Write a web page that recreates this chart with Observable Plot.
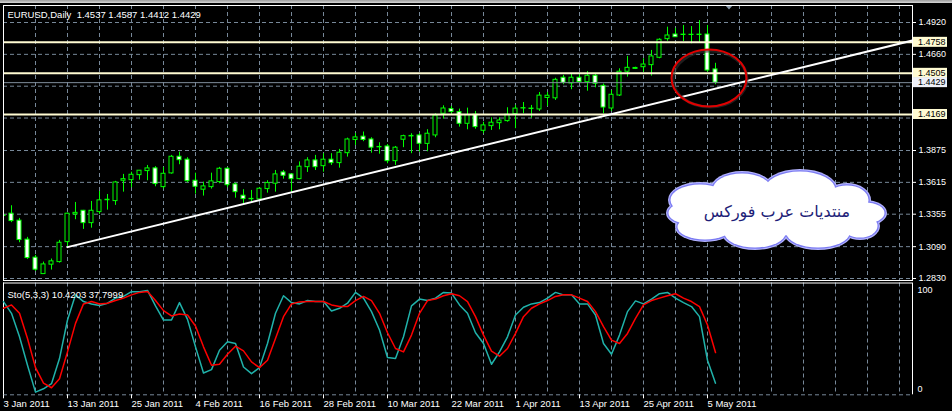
<!DOCTYPE html>
<html><head><meta charset="utf-8">
<script src="https://cdn.jsdelivr.net/npm/d3@7"></script>
<script src="https://cdn.jsdelivr.net/npm/@observablehq/plot@0.6"></script>
<style>
html,body{margin:0;padding:0;background:#000;}
#wrap{position:relative;width:952px;height:411px;overflow:hidden;background:#000;}
#topbar{position:absolute;left:0;top:0;width:952px;height:3px;background:linear-gradient(#9c9c9c,#d6d6d6);z-index:2;}
svg{display:block;}
</style></head><body><div id="wrap"><div id="topbar"></div><div id="chart"></div></div>
<script>
// ---- EURUSD daily bars, 3 Jan 2011 .. 6 May 2011 (bar number = position) ----
const open = [1.3345,1.3359,1.3302,1.3147,1.3000,1.2866,1.2943,1.2964,1.3127,1.3353,
1.3383,1.3282,1.3372,1.3469,1.3462,1.3628,1.3633,1.3674,1.3707,1.3729,
1.3576,1.3688,1.3824,1.3800,1.3628,1.3555,1.3576,1.3617,1.3726,1.3598,
1.3506,1.3480,1.3476,1.3560,1.3604,1.3696,1.3680,1.3641,1.3739,1.3794,
1.3747,1.3800,1.3772,1.3853,1.3961,1.3988,1.3965,1.3904,1.3908,1.3788,
1.3963,1.3990,1.3998,1.3929,1.3998,1.4175,1.4213,1.4188,1.4093,1.4168,
1.4036,1.4074,1.4098,1.4115,1.4172,1.4218,1.4214,1.4210,1.4304,1.4301,
1.4469,1.4422,1.4469,1.4433,1.4485,1.4403,1.4218,1.4324,1.4518,1.4541,
1.4555,1.4572,1.4632,1.4784,1.4822,1.4818,1.4820,1.4818,1.4822,1.4537];
const high = [1.3394,1.3424,1.3321,1.3166,1.3019,1.2964,1.2989,1.3141,1.3364,1.3451,
1.3386,1.3459,1.3541,1.3516,1.3623,1.3680,1.3698,1.3712,1.3753,1.3743,
1.3737,1.3835,1.3862,1.3816,1.3690,1.3617,1.3690,1.3737,1.3734,1.3609,
1.3555,1.3549,1.3571,1.3628,1.3712,1.3712,1.3685,1.3782,1.3816,1.3835,
1.3849,1.3849,1.3884,1.3976,1.4014,1.4026,1.3979,1.3938,1.3924,1.3908,
1.4000,1.4012,1.4012,1.4045,1.4175,1.4240,1.4235,1.4213,1.4221,1.4194,
1.4106,1.4142,1.4142,1.4224,1.4243,1.4267,1.4243,1.4349,1.4349,1.4465,
1.4488,1.4496,1.4496,1.4520,1.4496,1.4418,1.4365,1.4542,1.4643,1.4555,
1.4624,1.4692,1.4787,1.4882,1.4873,1.4896,1.4887,1.4936,1.4896,1.4587];
const low = [1.3241,1.3286,1.3122,1.2986,1.2888,1.2864,1.2899,1.2956,1.3086,1.3310,
1.3231,1.3241,1.3353,1.3388,1.3427,1.3535,1.3571,1.3633,1.3628,1.3579,
1.3560,1.3682,1.3759,1.3612,1.3519,1.3503,1.3560,1.3604,1.3571,1.3486,
1.3435,1.3459,1.3467,1.3527,1.3535,1.3641,1.3533,1.3636,1.3696,1.3712,
1.3698,1.3753,1.3731,1.3821,1.3916,1.3947,1.3853,1.3845,1.3767,1.3753,
1.3898,1.3849,1.3862,1.3865,1.3979,1.4131,1.4161,1.4066,1.4044,1.4049,
1.4012,1.4039,1.4044,1.4106,1.4053,1.4175,1.4139,1.4194,1.4235,1.4284,
1.4412,1.4371,1.4428,1.4359,1.4387,1.4175,1.4194,1.4316,1.4474,1.4536,
1.4514,1.4482,1.4624,1.4767,1.4798,1.4765,1.4746,1.4754,1.4514,1.4412];
const close = [1.3341,1.3299,1.3144,1.2997,1.2902,1.2945,1.2970,1.3122,1.3359,1.3366,
1.3282,1.3383,1.3468,1.3473,1.3614,1.3641,1.3677,1.3710,1.3729,1.3601,
1.3685,1.3824,1.3796,1.3625,1.3579,1.3582,1.3623,1.3726,1.3592,1.3535,
1.3478,1.3477,1.3563,1.3609,1.3680,1.3669,1.3641,1.3743,1.3794,1.3739,
1.3800,1.3772,1.3857,1.3965,1.3982,1.3961,1.3898,1.3901,1.3788,1.3898,
1.3992,1.3994,1.3930,1.4012,1.4161,1.4218,1.4190,1.4093,1.4164,1.4066,
1.4080,1.4102,1.4120,1.4167,1.4217,1.4221,1.4217,1.4323,1.4322,1.4452,
1.4428,1.4469,1.4433,1.4485,1.4420,1.4226,1.4330,1.4518,1.4550,1.4549,
1.4577,1.4643,1.4779,1.4814,1.4800,1.4821,1.4818,1.4821,1.4528,1.4429];

// ---- Stochastic (5,3,3) ----
const stochK = [83.4,72.9,51.9,26.4,2.4,5.4,9.9,32.4,66.9,89.4,
83.4,81.3,79.8,81.9,86.5,88.0,92.2,92.2,93.4,79.5,
66.9,66.9,82.5,67.5,42.9,19.5,22.5,39.9,47.4,45.9,
24.9,18.9,24.3,45.9,72.9,88.6,82.5,81.3,84.3,83.4,
83.4,75.0,77.4,81.9,91.6,86.5,74.4,57.9,33.3,32.4,
51.9,79.5,85.6,84.3,86.5,91.6,91.0,80.4,72.9,55.5,
45.9,27.3,38.4,51.9,71.4,78.3,81.3,82.5,86.5,91.6,
89.4,89.4,81.3,81.3,71.4,45.9,36.3,53.4,74.4,84.0,
81.3,85.6,90.4,91.6,86.5,82.5,78.9,69.9,30.9,10.4203];
const stochD = [77.4,80.4,72.9,50.4,24.3,10.5,6.3,14.4,38.4,63.9,
81.3,83.4,81.3,81.9,84.3,86.5,89.4,91.6,92.5,84.3,
75.3,70.5,72.3,71.4,61.5,42.9,26.4,27.3,36.3,43.5,
39.3,29.4,24.3,30.9,50.4,69.9,81.3,83.1,83.4,83.4,
83.4,80.4,78.9,78.9,84.3,88.0,84.3,72.9,55.5,41.4,
38.4,53.4,72.9,84.3,85.6,88.6,90.4,88.6,83.4,69.9,
53.4,39.0,34.5,41.4,54.9,69.9,77.4,81.3,84.3,88.0,
89.4,89.4,86.5,83.4,74.4,60.9,48.9,45.9,54.9,68.4,
80.4,84.3,86.5,88.6,90.4,86.5,83.4,78.9,62.4,37.7999];

// ---- axes / grid ----
const dateTickIdx = [0,8,16,24,32,40,48,56,64,72,80,88];
const dateTickLabels = ["3 Jan 2011","13 Jan 2011","25 Jan 2011","4 Feb 2011","16 Feb 2011","28 Feb 2011",
  "10 Mar 2011","22 Mar 2011","1 Apr 2011","13 Apr 2011","25 Apr 2011","5 May 2011"];
const gridIdx = [4,8,12,16,20,24,28,32,36,40,44,48,52,56,60,64,68,72,76,80,84,88,92,96,100,104,108,112];
const gridPrices = [1.4920,1.4660,1.4400,1.4140,1.3875,1.3615,1.3355,1.3090,1.2830];
const axisPrices = [1.4920,1.4660,1.3875,1.3615,1.3355,1.3090,1.2830];

// ---- drawn objects ----
const levels = [1.4758, 1.4505, 1.4169];
const trendBar = [8, 113.625];
const trendPrice = [1.3086, 1.4773];
const circleAt = {bar: 88.25, price: 1.4463};
const cloudAt = {bar: 96.75, price: 1.3377};
const cloudText = "منتديات عرب فوركس";
const shiftAt = 90.75;

const bars = open.map((o, i) => ({i, open: o, high: high[i], low: low[i], close: close[i]}));
const bull = bars.filter(d => d.close >= d.open);
const bear = bars.filter(d => d.close < d.open);
const trend = trendBar.map((b, k) => ({i: b, p: trendPrice[k]}));
const bid = close[close.length - 1];
const f4 = d3.format(".4f");
const last = bars[bars.length - 1];
const title = `EURUSD,Daily\u00a0 ${f4(last.open)} ${f4(last.high)} ${f4(last.low)} ${f4(last.close)}`;
const stoTitle = `Sto(5,3,3) ${stochK[stochK.length-1].toFixed(4)} ${stochD[stochD.length-1].toFixed(4)}`;

const FONT = "'Liberation Sans', Arial, sans-serif";
const X_DOMAIN = [0, 113.625];
const GRID = {stroke: "#778899", strokeOpacity: 1, strokeDasharray: "4,3"};
const GREEN = "#00ff00";

const labelBoxes = [
  {p: levels[0], bg: "#fffbd2"}, {p: levels[1], bg: "#fffbd2"}, {p: levels[2], bg: "#fffbd2"},
  {p: bid, bg: "#eef0f8"}
];

const main = Plot.plot({
  width: 952, height: 281,
  marginLeft: 3, marginRight: 40, marginTop: 5, marginBottom: 1,
  style: {background: "#000", color: "#fff", fontFamily: FONT, fontSize: "9px", overflow: "visible"},
  x: {domain: X_DOMAIN, axis: null},
  y: {domain: [1.28137, 1.50588], axis: null, label: null},
  marks: [
    Plot.gridX(gridIdx, GRID),
    Plot.gridY(gridPrices, GRID),
    Plot.axisY(axisPrices, {anchor: "right", tickSize: 3, tickPadding: 3, tickFormat: f4, label: null, fontSize: 9}),
    Plot.ruleX(bars, {x: "i", y1: "low", y2: "high", stroke: GREEN, clip: true}),
    Plot.rect(bull, {x1: d => d.i - 0.25, x2: d => d.i + 0.25, y1: "open", y2: "close", fill: "#000", stroke: GREEN, clip: true}),
    Plot.rect(bear, {x1: d => d.i - 0.25, x2: d => d.i + 0.25, y1: "open", y2: "close", fill: "#fff", stroke: GREEN, clip: true}),
    Plot.ruleY([bid], {stroke: "#7f8d9b"}),
    Plot.ruleY(levels, {stroke: "#fffbd2", strokeWidth: 2}),
    Plot.line(trend, {x: "i", y: "p", stroke: "#fff", strokeWidth: 2, clip: true}),
    // red ellipse
    (index, {x, y}) => {
      const g = d3.create("svg:g");
      g.append("ellipse").attr("cx", x(circleAt.bar) + 1).attr("cy", y(circleAt.price) + 1)
        .attr("rx", 37).attr("ry", 28).attr("fill", "none").attr("stroke", "#333").attr("stroke-width", 3).attr("opacity", 0.6);
      g.append("ellipse").attr("cx", x(circleAt.bar)).attr("cy", y(circleAt.price))
        .attr("rx", 37.5).attr("ry", 28.5).attr("fill", "none").attr("stroke", "#e00000").attr("stroke-width", 2);
      return g.node();
    },
    // cloud
    (index, {x, y}) => {
      const cx = x(cloudAt.bar), cy = y(cloudAt.price);
      const parts = [[0,0,86,25],[-77,-11,30,16],[-35,-21,30,17],[23,-21,36,19],[70,-11,22,15],
        [-89,2,20,11],[88,2,20,11],[-72,16,28,13],[-22,22,31,15],[41,22,32,15],[83,15,18,12]];
      const g = d3.create("svg:g");
      for (const [dx, dy, rx, ry] of parts) g.append("ellipse").attr("cx", cx+dx).attr("cy", cy+dy).attr("rx", rx+2).attr("ry", ry+2).attr("fill", "#b4b4ff");
      for (const [dx, dy, rx, ry] of parts) g.append("ellipse").attr("cx", cx+dx).attr("cy", cy+dy).attr("rx", rx+0.8).attr("ry", ry+0.8).attr("fill", "#7b7bf2");
      for (const [dx, dy, rx, ry] of parts) g.append("ellipse").attr("cx", cx+dx).attr("cy", cy+dy).attr("rx", rx-0.5).attr("ry", ry-0.5).attr("fill", "#fff");
      g.append("text").attr("x", cx).attr("y", cy).attr("dy", "0.35em").attr("text-anchor", "middle")
        .attr("font-family", "'DejaVu Sans', sans-serif").attr("font-size", 16)
        .attr("fill", "#1e1e78").text(cloudText);
      return g.node();
    },
    // price labels of the horizontal lines
    (index, {y}, values, dims) => {
      const x0 = dims.width - dims.marginRight;
      const g = d3.create("svg:g").attr("font-family", FONT).attr("font-size", 9).attr("text-anchor", "start");
      for (const L of labelBoxes) {
        const yy = y(L.p);
        g.append("rect").attr("x", x0 + 1).attr("y", yy - 5).attr("width", 34).attr("height", 10).attr("fill", L.bg);
        g.append("text").attr("x", x0 + 6).attr("y", yy).attr("dy", "0.35em").attr("fill", "#000").text(f4(L.p));
      }
      return g.node();
    },
    // chart-shift marker
    (index, {x}, values, dims) => {
      const sx = x(shiftAt), t = dims.marginTop;
      return d3.create("svg:polygon").attr("points", `${sx-4},${t} ${sx+4},${t} ${sx},${t+4.5}`).attr("fill", "#8899aa").node();
    },
    Plot.frame({stroke: "#fff"}),
    Plot.text([title], {frameAnchor: "top-left", dx: 4, dy: 9, lineAnchor: "middle", fill: "#fff", fontSize: 9.5})
  ]
});

const sub = Plot.plot({
  width: 952, height: 130,
  marginLeft: 3, marginRight: 40, marginTop: 1.5, marginBottom: 16.7,
  style: {background: "#000", color: "#fff", fontFamily: FONT, fontSize: "9px", overflow: "visible"},
  x: {domain: X_DOMAIN, axis: null},
  y: {domain: [0, 100], axis: null, label: null},
  marks: [
    Plot.gridX(gridIdx, GRID),
    Plot.ruleY([0], GRID),
    Plot.ruleY([100], {stroke: "#fff"}),
    Plot.ruleX([X_DOMAIN[0]], {stroke: "#fff"}),
    Plot.ruleX([X_DOMAIN[1]], {stroke: "#fff"}),
    Plot.lineY(stochK, {x: (d, i) => i, y: d => d, stroke: "#20b2aa"}),
    Plot.lineY(stochD, {x: (d, i) => i, y: d => d, stroke: "#ff0000"}),
    Plot.axisX(dateTickIdx, {anchor: "bottom", tickSize: 4, tickPadding: 1, tickFormat: d => dateTickLabels[dateTickIdx.indexOf(d)],
      textAnchor: "start", dx: 0, fontSize: 9.5, label: null}),
    Plot.text(["100"], {frameAnchor: "top-right", dx: 5, dy: 7, textAnchor: "start", lineAnchor: "middle", fill: "#fff", fontSize: 9}),
    Plot.text(["0"], {frameAnchor: "bottom-right", dx: 5, dy: -6, textAnchor: "start", lineAnchor: "middle", fill: "#fff", fontSize: 9}),
    Plot.text([stoTitle], {frameAnchor: "top-left", dx: 4, dy: 11.5, lineAnchor: "middle", fill: "#fff", fontSize: 9.5})
  ]
});

document.getElementById("chart").append(main, sub);
</script>
</body></html>
